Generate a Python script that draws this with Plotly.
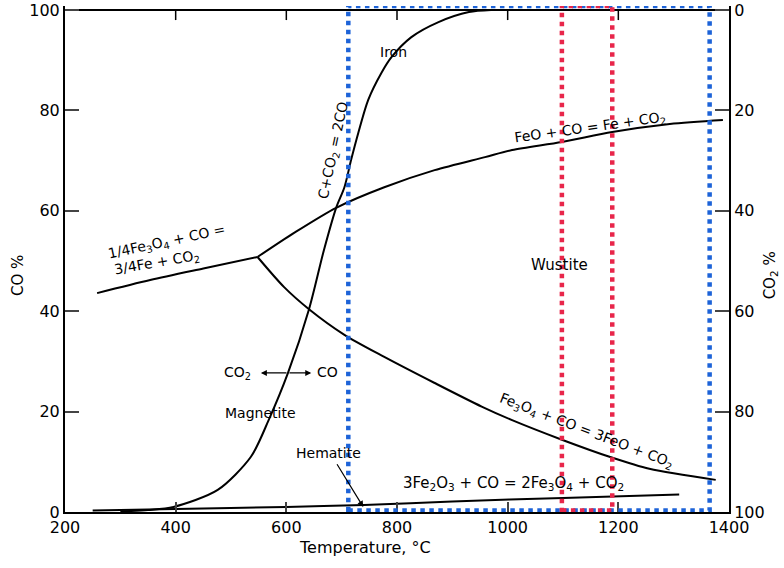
import plotly.graph_objects as go

# ---- data ----
boud_t = [300, 350, 396, 476, 536, 568, 603, 641, 668, 690, 705, 717, 730, 748, 772, 790, 826, 875, 930, 970]
boud_co = [0.1, 0.4, 1.0, 4.4, 11.0, 18.3, 27.7, 40.4, 52.2, 60.6, 64.7, 70.1, 75.5, 82.1, 87.5, 90.6, 94.6, 97.6, 99.6, 100]

fe3o4_fe_t = [258, 354, 450, 548]
fe3o4_fe_co = [43.6, 46.2, 48.5, 50.8]

feo_fe_t = [548, 614, 690, 777, 868, 959, 1008, 1098, 1189, 1293, 1389]
feo_fe_co = [50.8, 55.6, 60.6, 64.7, 68.1, 70.7, 72.1, 73.7, 75.7, 77.3, 78.1]

fe3o4_feo_t = [548, 596, 641, 705, 777, 868, 953, 1008, 1098, 1184, 1256, 1376]
fe3o4_feo_co = [50.8, 44.8, 40.4, 35.3, 30.9, 25.7, 21.0, 18.3, 14.4, 11.0, 8.6, 6.4]

hem_t = [250, 400, 600, 740, 900, 1100, 1310]
hem_co = [0.3, 0.6, 1.0, 1.4, 2.1, 2.8, 3.5]

x_ticks = [200, 400, 600, 800, 1000, 1200, 1400]
y_ticks = [0, 20, 40, 60, 80, 100]

blue_box = [712, 1365]
red_box = [1098, 1189]

FONT = "DejaVu Sans"
line = dict(color="black", width=2)
YMAX = 100.8  # small headroom above 100 so the top frame is drawn inside the plot area

fig = go.Figure()
for xs, ys in [(boud_t, boud_co), (fe3o4_fe_t, fe3o4_fe_co), (feo_fe_t, feo_fe_co),
               (fe3o4_feo_t, fe3o4_feo_co), (hem_t, hem_co)]:
    fig.add_trace(go.Scatter(x=xs, y=ys, mode="lines", line=dict(line, shape="spline", smoothing=0.8),
                             showlegend=False, hoverinfo="skip"))

# dummy trace for the right (CO2 %) axis
fig.add_trace(go.Scatter(x=[x_ticks[0]], y=[y_ticks[0]], yaxis="y2", mode="markers",
                         marker=dict(opacity=0), showlegend=False, hoverinfo="skip"))

# top frame of the plot (at CO = 100 %) with inward ticks, built from the axis lists
ytop = y_ticks[-1]
fig.add_trace(go.Scatter(x=[x_ticks[0], x_ticks[-1]], y=[ytop, ytop], mode="lines",
                         line=dict(color="black", width=2), showlegend=False, hoverinfo="skip"))
tick_x, tick_y = [], []
for t in x_ticks[1:-1]:
    tick_x += [t, t, None]
    tick_y += [ytop, ytop - 2, None]
fig.add_trace(go.Scatter(x=tick_x, y=tick_y, mode="lines", line=dict(color="black", width=1.5),
                         showlegend=False, hoverinfo="skip"))

fig.add_shape(type="rect", x0=blue_box[0], x1=blue_box[1], y0=0.3, y1=YMAX, xref="x", yref="y",
              line=dict(color="#1d63d8", width=4.5, dash="dot"), layer="above")
fig.add_shape(type="rect", x0=red_box[0], x1=red_box[1], y0=0.3, y1=YMAX, xref="x", yref="y",
              line=dict(color="#e8264a", width=4.5, dash="dot"), layer="above")

ann = []
def txt(x, y, t, angle=0, size=14):
    ann.append(dict(x=x, y=y, xref="x", yref="y", text=t, showarrow=False, textangle=angle,
                    font=dict(family=FONT, size=size, color="black")))

txt(793, 91.6, "Iron")
txt(686, 72.1, "C+CO<sub>2</sub> = 2CO", angle=-78)
txt(1149, 76.5, "FeO + CO = Fe + CO<sub>2</sub>", angle=-8)
txt(385, 53.8, "1/4Fe<sub>3</sub>O<sub>4</sub> + CO =", angle=-12)
txt(367, 49.6, "3/4Fe + CO<sub>2</sub>", angle=-10)
txt(1093, 49.2, "Wustite", size=15)
txt(512, 27.7, "CO<sub>2</sub>")
txt(675, 27.9, "CO")
txt(554, 19.7, "Magnetite")
txt(677, 11.8, "Hematite")
txt(1142, 16.1, "Fe<sub>3</sub>O<sub>4</sub> + CO = 3FeO + CO<sub>2</sub>", angle=21)
txt(1011, 5.6, "3Fe<sub>2</sub>O<sub>3</sub> + CO = 2Fe<sub>3</sub>O<sub>4</sub> + CO<sub>2</sub>", size=15)

for tip in (554, 645):
    ann.append(dict(x=tip, y=27.7, ax=603, ay=27.7, xref="x", yref="y", axref="x", ayref="y",
                    text="", showarrow=True, arrowhead=2, arrowsize=1, arrowwidth=1.2, arrowcolor="black"))
ann.append(dict(x=739, y=1.0, ax=690, ay=9.8, xref="x", yref="y", axref="x", ayref="y",
                text="", showarrow=True, arrowhead=2, arrowsize=1, arrowwidth=1.2, arrowcolor="black"))

ann.append(dict(x=-0.071, y=0.468, xref="paper", yref="paper", text="CO %", textangle=-90,
                xanchor="center", yanchor="middle", showarrow=False,
                font=dict(family=FONT, size=15, color="black")))
ann.append(dict(x=1.062, y=0.468, xref="paper", yref="paper", text="CO<sub>2</sub> %", textangle=-90,
                xanchor="center", yanchor="middle", showarrow=False,
                font=dict(family=FONT, size=15, color="black")))
ann.append(dict(x=0.452, y=-0.071, xref="paper", yref="paper", text="Temperature, °C",
                xanchor="center", yanchor="middle", showarrow=False,
                font=dict(family=FONT, size=16, color="black")))

axis_common = dict(showline=True, linecolor="black", linewidth=2, showgrid=False, zeroline=False,
                   automargin=False, ticklabeloverflow="allow", tickwidth=1.5,
                   tickfont=dict(family=FONT, size=16, color="black"))

fig.update_layout(
    width=784, height=568,
    margin=dict(l=65, r=55, t=6, b=56, autoexpand=False),
    paper_bgcolor="white", plot_bgcolor="white",
    annotations=ann,
    xaxis=dict(axis_common, range=[200, 1400], tickvals=x_ticks, ticks="inside", ticklen=10),
    yaxis=dict(axis_common, range=[0, YMAX], tickvals=y_ticks, ticks="inside", ticklen=14),
    yaxis2=dict(axis_common, range=[100, 100 - YMAX], tickvals=y_ticks, overlaying="y", side="right",
                ticks="inside", ticklen=14),
)

fig.write_html("out.html", config={"displayModeBar": False},
               post_script="document.body.style.margin='0';")
